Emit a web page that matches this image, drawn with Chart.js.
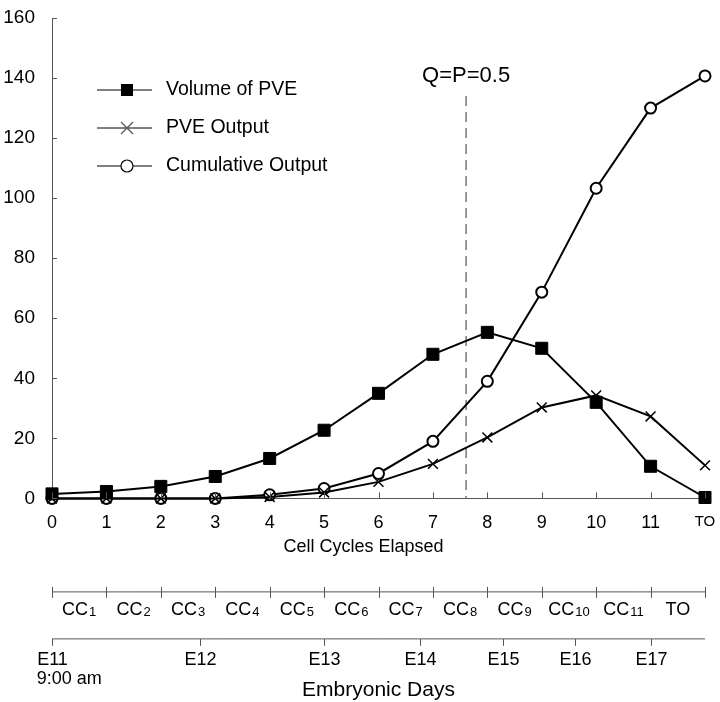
<!DOCTYPE html>
<html>
<head>
<meta charset="utf-8">
<script src="https://cdn.jsdelivr.net/npm/chart.js@4.4.0/dist/chart.umd.min.js"></script>
<style>
  html, body { margin: 0; padding: 0; background: #fff; }
  #wrap { width: 720px; height: 702px; }
</style>
</head>
<body>
<div id="wrap"><canvas id="chart"></canvas></div>
<script>
// ======== Data =========
const cycleLabels = ['0', '1', '2', '3', '4', '5', '6', '7', '8', '9', '10', '11', 'TO'];
const volumePVE = [1.5, 2.3, 4, 7.3, 13.3, 22.7, 35, 48, 55.3, 50, 32, 10.7, 0.3];
const pveOutput = [0, 0, 0, 0, 0.5, 2, 5.5, 11.5, 20.3, 30.3, 34.3, 27.3, 11];
const cumulativeOutput = [0, 0, 0, 0, 1.2, 3.3, 8.3, 19, 39, 68.7, 103.3, 130, 140.7];
const seriesNames = ['Volume of PVE', 'PVE Output', 'Cumulative Output'];
const xTitle = 'Cell Cycles Elapsed';

// second axis: cell cycles (between cycle ticks)
const ccNames = ['CC', 'CC', 'CC', 'CC', 'CC', 'CC', 'CC', 'CC', 'CC', 'CC', 'CC', 'TO'];
const ccSubs = ['1', '2', '3', '4', '5', '6', '7', '8', '9', '10', '11', ''];

// third axis: embryonic days, position in cycle units
const eDayLabels = ['E11', 'E12', 'E13', 'E14', 'E15', 'E16', 'E17'];
const eDayPos = [0, 2.72, 5.0, 6.76, 8.29, 9.61, 11.0];
const eDayNote = '9:00 am';
const eDayTitle = 'Embryonic Days';

// Q=P=0.5 marker
const qpPos = 7.61;
const qpTop = 134;
const qpText = 'Q=P=0.5';

const FONT = "'Liberation Sans', Arial, sans-serif";
const AXIS = '#555';

// ======== Extra drawing =========
const extras = {
    id: 'extras',
    beforeDatasetsDraw(chart) {
        const { ctx } = chart;
        const x = chart.scales.x, y = chart.scales.y;
        const px = x.getPixelForValue(qpPos);
        ctx.save();
        ctx.strokeStyle = '#777';
        ctx.lineWidth = 1.5;
        ctx.setLineDash([10, 6]);
        ctx.beginPath();
        ctx.moveTo(px, y.getPixelForValue(qpTop));
        ctx.lineTo(px, y.getPixelForValue(0));
        ctx.stroke();
        ctx.setLineDash([]);
        ctx.fillStyle = '#000';
        ctx.font = '22px ' + FONT;
        ctx.textAlign = 'center';
        ctx.textBaseline = 'middle';
        ctx.fillText(qpText, px, y.getPixelForValue(qpTop) - 20);
        ctx.restore();
    },
    afterDraw(chart) {
        const { ctx, chartArea } = chart;
        const x = chart.scales.x, y = chart.scales.y;
        ctx.save();
        ctx.strokeStyle = AXIS;
        ctx.lineWidth = 1;

        // inward ticks
        y.ticks.forEach(t => {
            const py = Math.round(y.getPixelForValue(t.value)) + 0.5;
            ctx.beginPath();
            ctx.moveTo(chartArea.left, py);
            ctx.lineTo(chartArea.left + 5, py);
            ctx.stroke();
        });
        cycleLabels.forEach((l, i) => {
            const pxx = Math.round(x.getPixelForValue(i)) + 0.5;
            ctx.beginPath();
            ctx.moveTo(pxx, chartArea.bottom);
            ctx.lineTo(pxx, chartArea.bottom - 6);
            ctx.stroke();
        });

        // x title
        ctx.fillStyle = '#000';
        ctx.font = '18px ' + FONT;
        ctx.textAlign = 'center';
        ctx.textBaseline = 'middle';
        ctx.fillText(xTitle, chartArea.left + (chartArea.right - chartArea.left) * 0.477, chartArea.bottom + 49);

        // legend
        const legX = chartArea.left + 45, legY = chartArea.top + 72, legGap = 38;
        ctx.font = '19.5px ' + FONT;
        ctx.textAlign = 'left';
        chart.data.datasets.forEach((ds, i) => {
            const ly = legY + i * legGap;
            ctx.strokeStyle = '#000';
            ctx.lineWidth = 1;
            ctx.beginPath();
            ctx.moveTo(legX, ly);
            ctx.lineTo(legX + 55, ly);
            ctx.stroke();
            const cx = legX + 30;
            if (i === 0) {
                ctx.fillStyle = '#000';
                ctx.fillRect(cx - 6, ly - 6, 12, 12);
            } else if (i === 1) {
                ctx.strokeStyle = '#555';
                ctx.lineWidth = 1.2;
                ctx.beginPath();
                ctx.moveTo(cx - 6, ly - 6); ctx.lineTo(cx + 6, ly + 6);
                ctx.moveTo(cx + 6, ly - 6); ctx.lineTo(cx - 6, ly + 6);
                ctx.stroke();
            } else {
                ctx.fillStyle = '#fff';
                ctx.strokeStyle = '#000';
                ctx.lineWidth = 1.2;
                ctx.beginPath();
                ctx.arc(cx, ly, 6, 0, Math.PI * 2);
                ctx.fill();
                ctx.stroke();
            }
            ctx.fillStyle = '#000';
            ctx.fillText(ds.label, legX + 69, ly);
        });

        // cell cycle axis
        const ccY = chartArea.bottom + 93.5;
        ctx.strokeStyle = AXIS;
        ctx.lineWidth = 1;
        ctx.beginPath();
        ctx.moveTo(x.getPixelForValue(0), ccY);
        ctx.lineTo(x.getPixelForValue(ccNames.length), ccY);
        ctx.stroke();
        for (let i = 0; i <= ccNames.length; i++) {
            const pxx = Math.round(x.getPixelForValue(i)) + 0.5;
            ctx.beginPath();
            ctx.moveTo(pxx, ccY - 5);
            ctx.lineTo(pxx, ccY + 6);
            ctx.stroke();
        }
        ctx.fillStyle = '#000';
        ctx.textBaseline = 'alphabetic';
        ccNames.forEach((n, i) => {
            const cxx = x.getPixelForValue(i + 0.5);
            ctx.font = '18px ' + FONT;
            const w1 = ctx.measureText(n).width;
            ctx.font = '13px ' + FONT;
            const w2 = ccSubs[i] ? ctx.measureText(ccSubs[i]).width + 1 : 0;
            const sx = cxx - (w1 + w2) / 2;
            ctx.font = '18px ' + FONT;
            ctx.textAlign = 'left';
            ctx.fillText(n, sx, ccY + 23);
            if (ccSubs[i]) {
                ctx.font = '13px ' + FONT;
                ctx.fillText(ccSubs[i], sx + w1 + 1, ccY + 24);
            }
        });

        // embryonic days axis
        const eY = chartArea.bottom + 140.5;
        ctx.strokeStyle = AXIS;
        ctx.beginPath();
        ctx.moveTo(x.getPixelForValue(0), eY);
        ctx.lineTo(x.getPixelForValue(ccNames.length), eY);
        ctx.stroke();
        ctx.font = '18px ' + FONT;
        ctx.textAlign = 'center';
        ctx.textBaseline = 'middle';
        eDayLabels.forEach((l, i) => {
            const pxx = Math.round(x.getPixelForValue(eDayPos[i])) + 0.5;
            ctx.beginPath();
            ctx.moveTo(pxx, eY);
            ctx.lineTo(pxx, eY + 7);
            ctx.stroke();
            ctx.fillText(l, pxx, eY + 21);
        });
        ctx.textAlign = 'left';
        const e0 = x.getPixelForValue(eDayPos[0]) - ctx.measureText(eDayLabels[0]).width / 2;
        ctx.fillText(eDayNote, e0, eY + 40);
        ctx.font = '21px ' + FONT;
        ctx.textAlign = 'center';
        ctx.fillText(eDayTitle, (chartArea.left + chartArea.right) / 2, eY + 51);
        ctx.restore();
    }
};

// ======== Chart =========
const ctx = document.getElementById('chart').getContext('2d');
new Chart(ctx, {
    type: 'line',
    data: {
        labels: cycleLabels,
        datasets: [{
            label: seriesNames[0],
            data: volumePVE,
            borderColor: '#000',
            backgroundColor: '#000',
            borderWidth: 2,
            pointStyle: 'rect',
            pointRadius: 8.5,
            pointBorderWidth: 1
        }, {
            label: seriesNames[1],
            data: pveOutput,
            borderColor: '#000',
            backgroundColor: '#000',
            borderWidth: 2,
            pointStyle: 'crossRot',
            pointRadius: 7,
            pointBorderWidth: 1.5
        }, {
            label: seriesNames[2],
            data: cumulativeOutput,
            borderColor: '#000',
            backgroundColor: '#fff',
            borderWidth: 2,
            pointStyle: 'circle',
            pointRadius: 5.5,
            pointBorderWidth: 2
        }]
    },
    options: {
        responsive: true,
        maintainAspectRatio: false,
        animation: false,
        clip: false,
        layout: { padding: { top: 18, right: 15, left: 0, bottom: 154 } },
        scales: {
            x: {
                offset: false,
                afterFit: s => { s.paddingLeft = 0; s.paddingRight = 0; },
                grid: { display: true, drawOnChartArea: false, drawTicks: false },
                border: { color: AXIS, width: 1 },
                ticks: {
                    autoSkip: false,
                    maxRotation: 0,
                    padding: 14,
                    color: '#000',
                    font: c => ({ family: FONT, size: c.index === 12 ? 15 : 18 })
                }
            },
            y: {
                min: 0,
                max: 160,
                afterFit: s => { s.width = 52; s.paddingTop = 0; s.paddingBottom = 0; },
                grid: { display: true, drawOnChartArea: false, drawTicks: false },
                border: { color: AXIS, width: 1 },
                ticks: {
                    stepSize: 20,
                    padding: 17,
                    color: '#000',
                    font: { family: FONT, size: 19 }
                }
            }
        },
        plugins: {
            legend: { display: false },
            tooltip: { enabled: false }
        }
    },
    plugins: [extras]
});
</script>
</body>
</html>
